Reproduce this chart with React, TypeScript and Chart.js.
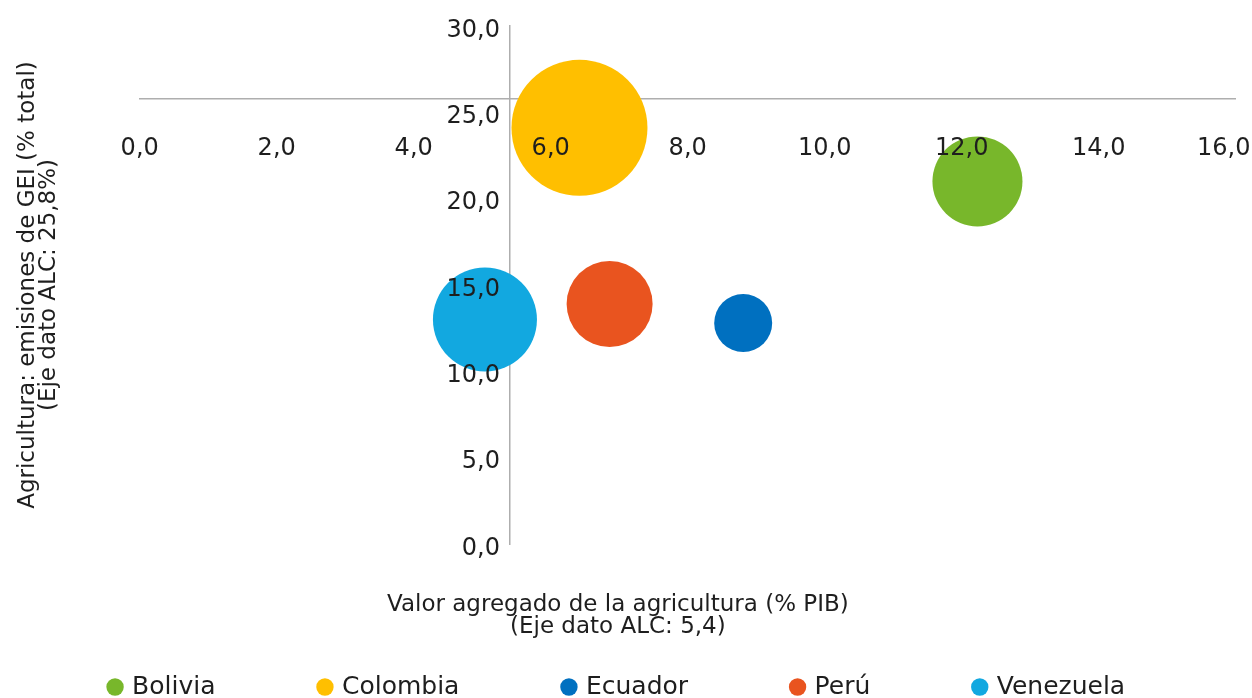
import React, { useEffect, useRef } from 'react';
import { Chart, registerables } from 'chart.js';

Chart.register(...registerables);

// ---- Data ----
const countries = ['Bolivia', 'Colombia', 'Ecuador', 'Perú', 'Venezuela'];
const valorAgregado = [12.23, 6.42, 8.81, 6.86, 5.04]; // x: % PIB
const emisionesGEI = [21.0, 24.1, 12.8, 13.9, 13.0]; // y: % total
const bubbleRadius = [45, 68, 29, 43, 52];
const countryColors = ['#78B72B', '#FFBF00', '#0070C0', '#E9541F', '#12A8E0'];

const alcValorAgregado = 5.4; // where the vertical axis crosses
const alcEmisiones = 25.8; // where the horizontal axis crosses

const xTitle = ['Valor agregado de la agricultura (% PIB)', '(Eje dato ALC: 5,4)'];
const yTitle = ['Agricultura: emisiones de GEI (% total)', '(Eje dato ALC: 25,8%)'];

const xRange = [0, 16];
const xStep = 2;
const yRange = [0, 30];
const yStep = 5;

const FONT = 'DejaVu Sans';
const TEXT = '#1E1E1E';
const AXIS = '#AEAEAE';

const fmt = (v: number) => v.toFixed(1).replace('.', ',');

// nudges the y tick labels down a little so the digits sit centred on their ticks
const yLabelNudge = {
  id: 'yLabelNudge',
  afterLayout(chart: any) {
    const s = chart.scales.yLabels;
    if (!s) return;
    s.top += 4.5;
    s.bottom += 4.5;
    s.configure();
  },
};

export default function App() {
  const ref = useRef<HTMLCanvasElement | null>(null);

  useEffect(() => {
    if (!ref.current) return;
    const datasets = countries.map((c, i) => ({
      label: c,
      data: [{ x: valorAgregado[i], y: emisionesGEI[i], r: bubbleRadius[i] }],
      backgroundColor: countryColors[i],
      borderColor: countryColors[i],
      borderWidth: 0,
      hoverRadius: 0,
      xAxisID: 'x',
      yAxisID: 'y',
    }));

    const chart = new Chart(ref.current, {
      type: 'bubble',
      data: { datasets },
      plugins: [yLabelNudge],
      options: {
        animation: false,
        responsive: true,
        maintainAspectRatio: false,
        events: [],
        layout: { autoPadding: false, padding: { left: 0, top: 26, right: 16.3, bottom: -11.5 } },
        scales: {
          x: {
            type: 'linear',
            min: xRange[0],
            max: xRange[1],
            position: { y: alcEmisiones } as any,
            border: { display: true, color: AXIS, width: 1.5, z: 0 },
            grid: {
              display: true,
              drawOnChartArea: false,
              drawTicks: true,
              tickLength: 36,
              tickColor: 'rgba(0,0,0,0)',
            },
            ticks: {
              stepSize: xStep,
              includeBounds: false,
              padding: 0,
              autoSkip: false,
              maxRotation: 0,
              z: 1,
              color: TEXT,
              font: { family: FONT, size: 24 },
              callback: (v: any) => (Number(v) === xRange[1] ? fmt(Number(v)) + '\u2003' : fmt(Number(v))),
            },
            afterFit: (s: any) => {
              s.paddingLeft = 0;
              s.paddingRight = 0;
            },
          },
          y: {
            type: 'linear',
            min: yRange[0],
            max: yRange[1],
            position: { x: alcValorAgregado } as any,
            border: { display: true, color: AXIS, width: 1.5, z: 0 },
            grid: { display: false },
            ticks: { display: false, stepSize: yStep },
          },
          yLabels: {
            type: 'linear',
            axis: 'y',
            min: yRange[0],
            max: yRange[1],
            position: { x: 5.26 } as any,
            border: { display: false },
            grid: { display: false },
            ticks: {
              stepSize: yStep,
              padding: 0,
              z: 1,
              color: TEXT,
              font: { family: FONT, size: 24 },
              callback: (v: any) => fmt(Number(v)),
            },
            afterFit: (s: any) => {
              s.paddingTop = 0;
              s.paddingBottom = 0;
            },
          },
        },
        plugins: {
          tooltip: { enabled: false },
          legend: {
            display: true,
            position: 'bottom',
            align: 'center',
            labels: {
              usePointStyle: true,
              pointStyle: 'circle',
              boxWidth: 9,
              boxHeight: 12.3,
              padding: 105,
              color: TEXT,
              font: { family: FONT, size: 25 },
            },
          },
          title: {
            display: true,
            position: 'bottom',
            weight: 500,
            fullSize: true,
            text: xTitle,
            color: TEXT,
            font: { family: FONT, size: 23, weight: 'normal', lineHeight: 22 / 23 },
            padding: { top: 50, bottom: -68.5 },
          },
          subtitle: {
            display: true,
            position: 'left',
            fullSize: false,
            text: yTitle,
            color: TEXT,
            font: { family: FONT, size: 23, weight: 'normal', lineHeight: 21 / 23 },
            padding: { top: 18, bottom: 79.7 },
          },
        },
      } as any,
    });
    return () => chart.destroy();
  }, []);

  return (
    <div style={{ position: 'fixed', left: 0, top: 0, width: 1252, height: 698, background: '#fff' }}>
      <canvas ref={ref} />
    </div>
  );
}
